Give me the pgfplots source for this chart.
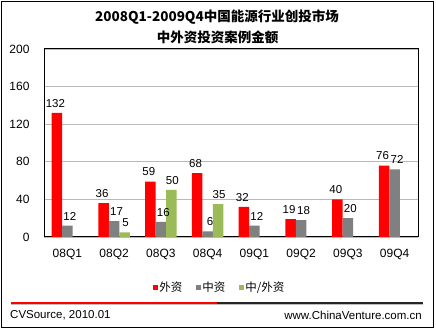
\documentclass[border=0pt]{standalone}
\usepackage{pgfplots}
\pgfplotsset{compat=1.18}
\usepackage{fontspec}
\setmainfont{Liberation Sans}
\newfontfamily\cjk{Noto Sans CJK SC}
\definecolor{cred}{HTML}{FF0000}
\definecolor{cgray}{HTML}{808080}
\definecolor{cgreen}{HTML}{9BBB59}
\begin{document}
\begin{tikzpicture}[x=1pt,y=1pt]
\fill[white] (0,0) rectangle (436,329);
\draw[black, line width=1pt] (1.5,1.5) rectangle (433,327.5);
\node[font=\cjk\bfseries\fontsize{13.5}{15}\selectfont] at (217,312) {2008Q1-2009Q4中国能源行业创投市场};
\node[font=\cjk\bfseries\fontsize{13.5}{15}\selectfont] at (217.5,292) {中外资投资案例金额};
\begin{axis}[
  at={(44pt,92pt)}, anchor=south west,
  scale only axis, width=374pt, height=188pt,
  /pgf/number format/assume math mode=true,
  ymin=0, ymax=200, ytick={0,40,...,200},
  xmin=-0.5, xmax=7.5, xtick={0,...,7},
  xticklabels={08Q1,08Q2,08Q3,08Q4,09Q1,09Q2,09Q3,09Q4},
  ybar=0pt, bar width=10.5pt,
  ymajorgrids, grid style={gray!55, line width=0.7pt},
  major tick length=0pt,
  axis line style={black, line width=1pt},
  tick label style={font=\fontsize{12}{14}\selectfont},
  yticklabel style={xshift=-11pt},
  xticklabel style={yshift=-9pt},
  nodes near coords,
  every node near coord/.append style={font=\fontsize{11.5}{13}\selectfont, black, yshift=2pt, inner xsep=0pt},
  legend columns=3,
  legend style={at={(0.469,-0.266)}, anchor=center, draw=none, fill=none,
    font=\cjk\fontsize{11.5}{13}\selectfont,
    /tikz/every even column/.append style={column sep=12pt},
    nodes={inner xsep=1.5pt}},
  legend image code/.code={\fill[#1] (0pt,-2.5pt) rectangle (5pt,2.5pt);},
]
\addplot[fill=cred, draw=none, every node near coord/.append style={xshift=-1.5pt}] coordinates {(0,132) (1,36) (2,59) (3,68) (4,32) (5,19) (6,40) (7,76)};
\addplot[fill=cgray, draw=none, every node near coord/.append style={xshift=2.5pt}] coordinates {(0,12) (1,17) (2,16) (3,6) (4,12) (5,18) (6,20) (7,72)};
\addplot[fill=cgreen, draw=none, every node near coord/.append style={xshift=1pt}] coordinates {(1,5) (2,50) (3,35)};
\legend{外资,中资,中/外资}
\end{axis}
\draw[cred, line width=1.5pt] (11,26) -- (217,26);
\draw[black!85, line width=1.2pt] (217,26) -- (423,26);
\draw[gray!50, line width=0.6pt] (11,24.6) -- (423,24.6);
\node[anchor=west, font=\fontsize{11.5}{13}\selectfont, inner sep=0pt] at (10,14) {CVSource, 2010.01};
\node[anchor=east, font=\fontsize{11.5}{13}\selectfont, inner sep=0pt] at (422,14) {www.ChinaVenture.com.cn};
\end{tikzpicture}
\end{document}
